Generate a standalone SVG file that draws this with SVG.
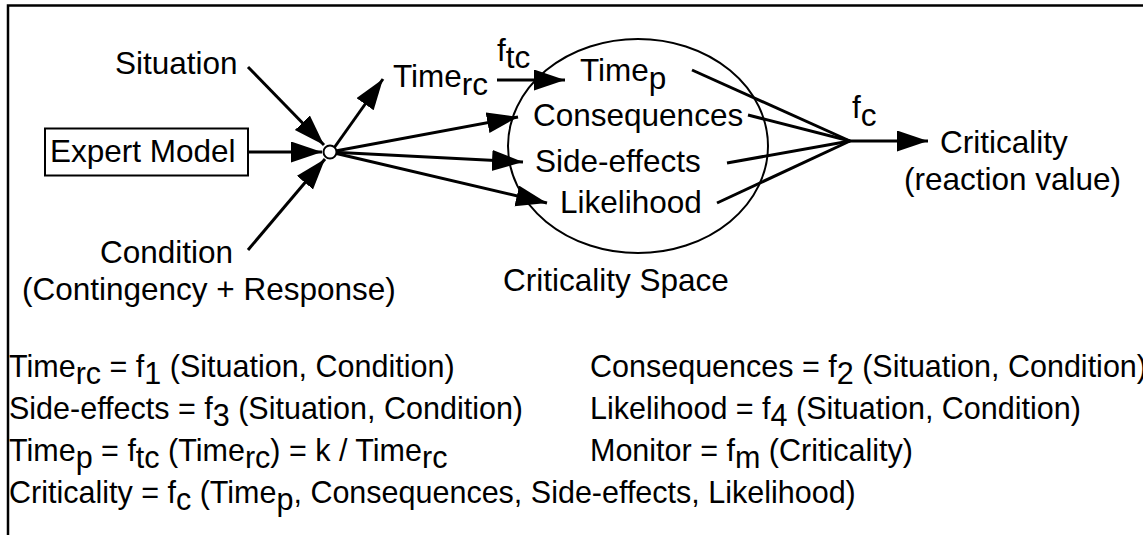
<svg xmlns="http://www.w3.org/2000/svg" width="1143" height="535" viewBox="0 0 1143 535">
<style>
text{font-family:"Liberation Sans",Arial,Helvetica,sans-serif;font-size:31.5px;fill:#000}
#equations text{font-size:30.5px}
.ln{stroke:#000;stroke-width:3;fill:none}
.arr{marker-end:url(#ah)}
.frame{stroke:#000;stroke-width:2.5;fill:none}
</style>
<defs>
<marker id="ah" markerUnits="userSpaceOnUse" markerWidth="34" markerHeight="24" refX="31" refY="10.5" orient="auto">
<path d="M0,0 L31,10.5 L0,21 z" fill="#000"/>
</marker>
</defs>
<rect width="1143" height="535" fill="#fff"/>
<path class="frame" d="M8,535 V5.5 H1143"/>

<g id="connectors">
<line class="ln arr" x1="248" y1="67" x2="324" y2="145"/>
<line class="ln arr" x1="248" y1="152" x2="322" y2="152"/>
<line class="ln arr" x1="248" y1="250" x2="325" y2="159"/>
<line class="ln arr" x1="334" y1="148" x2="383" y2="79"/>
<line class="ln arr" x1="330" y1="152" x2="518" y2="117"/>
<line class="ln arr" x1="330" y1="152" x2="523" y2="162"/>
<line class="ln arr" x1="330" y1="152" x2="547" y2="203"/>
<line class="ln arr" x1="497" y1="80" x2="565" y2="80"/>
<line class="ln" x1="692" y1="70" x2="850" y2="141"/>
<line class="ln" x1="748" y1="115" x2="850" y2="141"/>
<line class="ln" x1="727" y1="163" x2="850" y2="141"/>
<line class="ln" x1="717" y1="203" x2="850" y2="141"/>
<line class="ln arr" x1="850" y1="141" x2="928" y2="141"/>
</g>

<g id="junction">
<circle cx="330" cy="152" r="6.5" fill="#fff" stroke="#000" stroke-width="2"/>
</g>

<g id="situation"><text x="115" y="74">Situation</text></g>
<g id="expert-model">
<rect x="45" y="128.5" width="203" height="47" fill="#fff" stroke="#000" stroke-width="2"/>
<text x="50" y="162">Expert Model</text>
</g>
<g id="condition">
<text x="100" y="263">Condition</text>
<text x="22" y="300">(Contingency + Response)</text>
</g>
<g id="time-rc"><text x="393" y="87">Time<tspan dy="8">rc</tspan></text></g>
<g id="label-ftc"><text x="497" y="61">f<tspan dy="7">tc</tspan></text></g>

<g id="criticality-space">
<ellipse cx="638" cy="146" rx="130" ry="107" fill="none" stroke="#000" stroke-width="2"/>
<text x="580" y="81">Time<tspan dy="8">p</tspan></text>
<text x="533" y="126">Consequences</text>
<text x="535" y="172">Side-effects</text>
<text x="560" y="213">Likelihood</text>
<text x="503" y="291">Criticality Space</text>
</g>

<g id="label-fc"><text x="852" y="118">f<tspan dy="8">c</tspan></text></g>
<g id="criticality">
<text x="940" y="153">Criticality</text>
<text x="904" y="190">(reaction value)</text>
</g>

<g id="equations">
<text x="9" y="377">Time<tspan dy="7">rc</tspan><tspan dy="-7"> = f</tspan><tspan dy="7">1</tspan><tspan dy="-7"> (Situation, Condition)</tspan></text>
<text x="590" y="377">Consequences = f<tspan dy="7">2</tspan><tspan dy="-7"> (Situation, Condition)</tspan></text>
<text x="9" y="419">Side-effects = f<tspan dy="7">3</tspan><tspan dy="-7"> (Situation, Condition)</tspan></text>
<text x="590" y="419">Likelihood = f<tspan dy="7">4</tspan><tspan dy="-7"> (Situation, Condition)</tspan></text>
<text x="9" y="461">Time<tspan dy="7">p</tspan><tspan dy="-7"> = f</tspan><tspan dy="7">tc</tspan><tspan dy="-7"> (Time</tspan><tspan dy="7">rc</tspan><tspan dy="-7">) = k / Time</tspan><tspan dy="7">rc</tspan></text>
<text x="590" y="461">Monitor = f<tspan dy="7">m</tspan><tspan dy="-7"> (Criticality)</tspan></text>
<text x="9" y="503">Criticality = f<tspan dy="7">c</tspan><tspan dy="-7"> (Time</tspan><tspan dy="7">p</tspan><tspan dy="-7">, Consequences, Side-effects, Likelihood)</tspan></text>
</g>
</svg>
